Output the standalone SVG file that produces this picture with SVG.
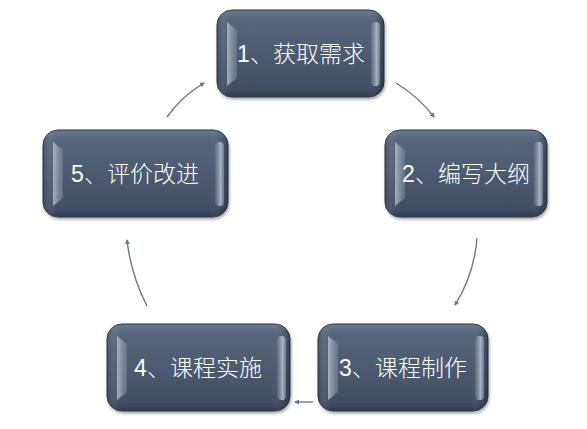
<svg xmlns="http://www.w3.org/2000/svg" width="587" height="429" viewBox="0 0 587 429">
<style>
.body{fill:url(#bodyG);stroke:#2f3b4a;stroke-width:1}
.ov{fill:url(#ovG)}
.ls{fill:url(#lsG)}
.rs{fill:url(#rsG)}
.lbl{font-family:"Liberation Sans","Noto Sans CJK SC",sans-serif;font-size:23px;font-weight:300;fill:#ffffff;text-anchor:middle}
.con{fill:none;stroke:#6d7682;stroke-width:1.4}
</style>
<defs>
<linearGradient id="bodyG" x1="0" y1="0" x2="0" y2="1">
<stop offset="0" stop-color="#6a7a8e"/>
<stop offset="0.1" stop-color="#56667b"/>
<stop offset="0.5" stop-color="#4c5b70"/>
<stop offset="0.9" stop-color="#414f64"/>
<stop offset="1" stop-color="#2f3b4c"/>
</linearGradient>
<linearGradient id="ovG" x1="0" y1="0" x2="1" y2="0">
<stop offset="0" stop-color="#000" stop-opacity="0.15"/>
<stop offset="0.04" stop-color="#fff" stop-opacity="0.06"/>
<stop offset="0.08" stop-color="#fff" stop-opacity="0"/>
<stop offset="0.9" stop-color="#fff" stop-opacity="0"/>
<stop offset="0.97" stop-color="#000" stop-opacity="0.1"/>
<stop offset="1" stop-color="#000" stop-opacity="0.3"/>
</linearGradient>
<linearGradient id="lsG" x1="0" y1="0" x2="1" y2="0">
<stop offset="0" stop-color="#b4c0cf" stop-opacity="0.85"/>
<stop offset="1" stop-color="#7c8a9e" stop-opacity="0.5"/>
</linearGradient>
<linearGradient id="rsG" x1="0" y1="0" x2="1" y2="0">
<stop offset="0" stop-color="#7f8da0" stop-opacity="0.3"/>
<stop offset="0.6" stop-color="#b8c4d2" stop-opacity="0.85"/>
<stop offset="1" stop-color="#8a98aa" stop-opacity="0.6"/>
</linearGradient>
<filter id="sh" x="-10%" y="-10%" width="125%" height="130%">
<feDropShadow dx="1" dy="2" stdDeviation="1.8" flood-color="#000" flood-opacity="0.35"/>
</filter>
<marker id="ah" viewBox="0 0 10 10" refX="8" refY="5" markerWidth="5" markerHeight="5" orient="auto" markerUnits="userSpaceOnUse">
<path d="M0,0 L10,5 L0,10 z" fill="#6d7682"/>
</marker>
</defs>
<rect width="587" height="429" fill="#ffffff"/>
<g id="connectors">
<path class="con" marker-end="url(#ah)" d="M167,117 Q182,96 204,83"/>
<path class="con" marker-end="url(#ah)" d="M396,83 Q419,97 434,117"/>
<path class="con" marker-end="url(#ah)" d="M477,238 Q474,275 455,305"/>
<path class="con" marker-end="url(#ah)" d="M313,402 L295,402"/>
<path class="con" marker-end="url(#ah)" d="M147,306 Q131,275 127,240"/>
</g>
<g id="node1">
<rect class="body" x="217" y="10" width="167" height="87" rx="15" filter="url(#sh)"/>
<rect class="ov" x="217" y="10" width="167" height="87" rx="15"/>
<polygon class="ls" points="227,22 237,30 237,78 227,86"/>
<rect class="rs" x="371" y="22" width="9" height="64" rx="4"/>
<text class="lbl" x="301" y="62">1、获取需求</text>
</g>
<g id="node2">
<rect class="body" x="385" y="130" width="162" height="87" rx="15" filter="url(#sh)"/>
<rect class="ov" x="385" y="130" width="162" height="87" rx="15"/>
<polygon class="ls" points="395,142 405,150 405,198 395,206"/>
<rect class="rs" x="534" y="142" width="9" height="64" rx="4"/>
<text class="lbl" x="466" y="182">2、编写大纲</text>
</g>
<g id="node3">
<rect class="body" x="318" y="324" width="170" height="87" rx="15" filter="url(#sh)"/>
<rect class="ov" x="318" y="324" width="170" height="87" rx="15"/>
<polygon class="ls" points="328,336 338,344 338,392 328,400"/>
<rect class="rs" x="475" y="336" width="9" height="64" rx="4"/>
<text class="lbl" x="403" y="376">3、课程制作</text>
</g>
<g id="node4">
<rect class="body" x="107" y="324" width="183" height="87" rx="15" filter="url(#sh)"/>
<rect class="ov" x="107" y="324" width="183" height="87" rx="15"/>
<polygon class="ls" points="117,336 127,344 127,392 117,400"/>
<rect class="rs" x="277" y="336" width="9" height="64" rx="4"/>
<text class="lbl" x="198" y="376">4、课程实施</text>
</g>
<g id="node5">
<rect class="body" x="43" y="130" width="185" height="87" rx="15" filter="url(#sh)"/>
<rect class="ov" x="43" y="130" width="185" height="87" rx="15"/>
<polygon class="ls" points="53,142 63,150 63,198 53,206"/>
<rect class="rs" x="215" y="142" width="9" height="64" rx="4"/>
<text class="lbl" x="135" y="182">5、评价改进</text>
</g>
</svg>
